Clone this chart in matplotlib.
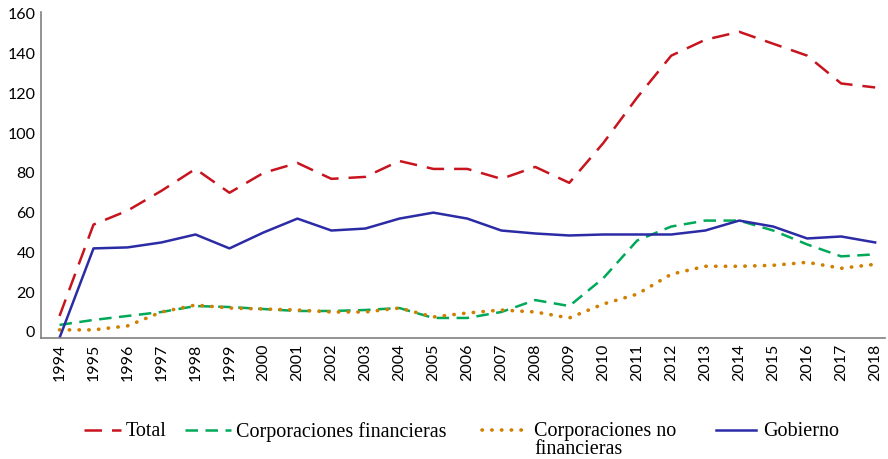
import matplotlib
matplotlib.use("Agg")
import matplotlib.pyplot as plt
from matplotlib.lines import Line2D

years = list(range(1994, 2019))
total = [8, 54, 61, 71, 82, 70, 80, 85, 77, 78, 86, 82, 82, 77, 83, 75,
         95, 118, 139, 147, 151, 145, 139, 125, 123]
corp_fin = [3.5, 6, 8, 10, 13, 12.5, 11.5, 10.5, 10.5, 11, 12, 7, 7, 10, 16, 13,
            27, 46, 53, 56, 56, 51, 44, 38, 39]
corp_no_fin = [1, 1, 3, 10, 13.5, 12, 11.5, 11, 10, 10, 12, 7.5, 9.5, 11, 10, 7,
               14, 19, 29, 33, 33, 33.5, 35, 32, 34]
gobierno = [-3, 42, 42.5, 45, 49, 42, 50, 57, 51, 52, 57, 60, 57, 51, 49.5, 48.5,
            49, 49, 49, 51, 56, 53, 47, 48, 45]

W, H = 888, 459
fig = plt.figure(figsize=(W / 100, H / 100), dpi=100)
ax = fig.add_axes([0.046, 0.264, 0.951, 0.71])

styles = [
    dict(color="#C8141E", lw=1.8, dashes=(7, 4)),
    dict(color="#00A859", lw=1.8, dashes=(5, 3)),
    dict(color="#D07F00", lw=2.6, dashes=(0.1, 2.6), dash_capstyle="round"),
    dict(color="#2B2BA6", lw=1.8),
]
series = [total, corp_fin, corp_no_fin, gobierno]
for vals, st in zip(series, styles):
    ax.plot(years, vals, **st)

ax.set_xlim(1993.45, 2018.3)
ax.set_ylim(-3, 161)
ax.set_yticks(range(0, 161, 20))
ax.set_xticks(years)
ax.set_xticklabels([str(y) for y in years], rotation=90)
ax.tick_params(length=0, labelsize=11.5, pad=4)
for lab in ax.get_xticklabels() + ax.get_yticklabels():
    lab.set_family("Lato")
for s in ["top", "right"]:
    ax.spines[s].set_visible(False)
for s in ["left", "bottom"]:
    ax.spines[s].set_color("#808080")
    ax.spines[s].set_linewidth(1.2)

# legend drawn by hand so the wrapped label hangs below its first line
labels = ["Total", "Corporaciones financieras",
          "Corporaciones no\nfinancieras", "Gobierno"]
handle_x = [(84, 121), (185, 231), (482, 530), (716, 756)]
text_x = [126, 236, 534, 763]
line_y = 1 - 430 / H
top_y = 1 - 422 / H
for (x0, x1), tx, lab, st in zip(handle_x, text_x, labels, styles):
    fig.add_artist(Line2D([x0 / W, x1 / W], [line_y, line_y],
                          transform=fig.transFigure, **st))
    fig.text(tx / W, top_y, lab, family="Liberation Serif", size=14.5,
             va="top", ha="left", linespacing=0.95)

fig.savefig("out.png", dpi=100)
